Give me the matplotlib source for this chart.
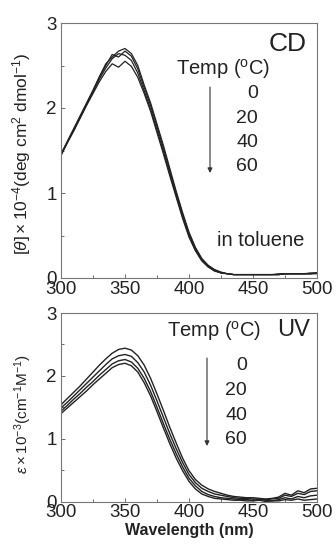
import matplotlib
matplotlib.use("Agg")
import matplotlib.pyplot as plt
from matplotlib.ticker import MultipleLocator

plt.rcParams['font.family'] = ['Liberation Sans', 'DejaVu Sans']
plt.rcParams['mathtext.fontset'] = 'custom'
plt.rcParams['mathtext.rm'] = 'Liberation Sans'
plt.rcParams['mathtext.it'] = 'Liberation Sans:italic'
plt.rcParams['mathtext.bf'] = 'Liberation Sans:bold'

wavelength = list(range(300, 505, 5))

cd_0 = [1.46, 1.61, 1.76, 1.91, 2.06, 2.21, 2.37, 2.52, 2.60, 2.67, 2.70, 2.64, 2.50, 2.27,
        2.06, 1.81, 1.56, 1.29, 1.02, 0.77, 0.54, 0.36, 0.23, 0.15, 0.10, 0.07, 0.05, 0.04,
        0.04, 0.04, 0.04, 0.04, 0.04, 0.04, 0.05, 0.05, 0.05, 0.05, 0.05, 0.06, 0.06]
cd_20 = [1.45, 1.60, 1.75, 1.90, 2.05, 2.20, 2.36, 2.50, 2.63, 2.60, 2.67, 2.61, 2.46, 2.24,
         2.03, 1.78, 1.53, 1.26, 1.00, 0.75, 0.52, 0.35, 0.22, 0.14, 0.09, 0.06, 0.05, 0.04,
         0.04, 0.04, 0.04, 0.04, 0.04, 0.04, 0.04, 0.05, 0.05, 0.05, 0.05, 0.05, 0.06]
cd_40 = [1.45, 1.60, 1.74, 1.89, 2.04, 2.19, 2.34, 2.47, 2.58, 2.64, 2.62, 2.56, 2.41, 2.20,
         1.99, 1.74, 1.49, 1.23, 0.97, 0.72, 0.50, 0.33, 0.21, 0.13, 0.09, 0.06, 0.05, 0.04,
         0.04, 0.04, 0.04, 0.04, 0.04, 0.04, 0.04, 0.05, 0.05, 0.05, 0.05, 0.05, 0.06]
cd_60 = [1.44, 1.59, 1.73, 1.88, 2.03, 2.17, 2.31, 2.43, 2.52, 2.48, 2.55, 2.49, 2.36, 2.17,
         1.96, 1.71, 1.46, 1.20, 0.95, 0.70, 0.48, 0.32, 0.20, 0.13, 0.08, 0.06, 0.05, 0.04,
         0.04, 0.04, 0.04, 0.04, 0.04, 0.04, 0.04, 0.05, 0.05, 0.05, 0.05, 0.05, 0.05]

uv_0 = [1.54, 1.64, 1.74, 1.84, 1.95, 2.06, 2.17, 2.27, 2.36, 2.42, 2.44, 2.41, 2.32, 2.17,
        1.96, 1.71, 1.45, 1.18, 0.93, 0.69, 0.49, 0.35, 0.26, 0.20, 0.16, 0.13, 0.10, 0.08,
        0.07, 0.06, 0.06, 0.05, 0.04, 0.05, 0.07, 0.13, 0.10, 0.17, 0.14, 0.20, 0.21]
uv_20 = [1.49, 1.58, 1.68, 1.78, 1.88, 1.98, 2.08, 2.18, 2.27, 2.32, 2.34, 2.31, 2.21, 2.06,
         1.85, 1.60, 1.34, 1.08, 0.84, 0.62, 0.43, 0.30, 0.21, 0.16, 0.12, 0.10, 0.08, 0.06,
         0.05, 0.05, 0.04, 0.04, 0.03, 0.04, 0.05, 0.10, 0.08, 0.13, 0.11, 0.16, 0.17]
uv_40 = [1.44, 1.53, 1.63, 1.72, 1.82, 1.91, 2.01, 2.10, 2.19, 2.24, 2.26, 2.22, 2.12, 1.96,
         1.75, 1.50, 1.24, 0.99, 0.76, 0.55, 0.37, 0.25, 0.16, 0.11, 0.08, 0.06, 0.05, 0.04,
         0.03, 0.03, 0.02, 0.03, 0.02, 0.01, 0.03, 0.06, 0.04, 0.08, 0.06, 0.09, 0.10]
uv_60 = [1.40, 1.49, 1.58, 1.67, 1.76, 1.86, 1.95, 2.04, 2.13, 2.18, 2.20, 2.16, 2.06, 1.89,
         1.68, 1.43, 1.17, 0.92, 0.69, 0.49, 0.32, 0.20, 0.12, 0.08, 0.05, 0.04, 0.03, 0.02,
         0.02, 0.01, 0.01, 0.02, 0.00, 0.01, 0.01, 0.03, 0.02, 0.04, 0.02, 0.03, 0.04]

temps = ['0', '20', '40', '60']
x_ticks = [300, 350, 400, 450, 500]
y_ticks = [0, 1, 2, 3]

W, H = 336, 544
fig = plt.figure(figsize=(W / 100, H / 100), dpi=100)


def fx(px):
    return px / W


def fy(py):
    return 1 - py / H


ax1 = fig.add_axes([fx(61), fy(278), fx(317) - fx(61), fy(23) - fy(278)])
ax2 = fig.add_axes([fx(61), fy(501.5), fx(317) - fx(61), fy(313) - fy(501.5)])

for s in (cd_0, cd_20, cd_40, cd_60):
    ax1.plot(wavelength, s, color='#222222', lw=0.9)
for s in (uv_0, uv_20, uv_40, uv_60):
    ax2.plot(wavelength, s, color='#222222', lw=1.0)

for ax in (ax1, ax2):
    ax.set_xlim(300, 500)
    ax.set_ylim(0, 3)
    ax.set_xticks(x_ticks)
    ax.set_yticks(y_ticks)
    ax.xaxis.set_minor_locator(MultipleLocator(25))
    ax.yaxis.set_minor_locator(MultipleLocator(0.5))
    ax.tick_params(which='both', direction='in', top=False, right=False,
                   labelsize=13.5, color='#555555', labelcolor='#222222')
    ax.tick_params(axis='x', pad=2)
    ax.tick_params(axis='y', pad=3)
    ax.tick_params(which='major', length=3, width=0.6)
    ax.tick_params(which='minor', length=2, width=0.6)
    for sp in ax.spines.values():
        sp.set_color('#777777')
        sp.set_linewidth(0.8)

ax1.set_ylabel(r'$[\theta]\times10^{-4}$(deg cm$^{2}$ dmol$^{-1}$)', fontsize=12.5,
               color='#222222')
ax1.yaxis.set_label_coords((33 - 61) / 256, (278 - 154) / 255)
ax2.set_ylabel(r'$\varepsilon\times10^{-3}$(cm$^{-1}$M$^{-1}$)', fontsize=11,
               color='#222222')
ax2.yaxis.set_label_coords((34 - 61) / 256, (501.5 - 414) / 188.5)
ax2.set_xlabel('Wavelength (nm)', fontsize=11.5, fontweight='bold', labelpad=1,
               color='#222222')

tc = '#222222'
# Top panel annotations
fig.text(fx(307), fy(44), 'CD', fontsize=19, ha='right', va='center', color=tc)
fig.text(fx(223), fy(69), 'Temp ($^{\\mathrm{o}}$C)', fontsize=14.5, ha='center',
         va='center', color=tc)
for i, t in enumerate(temps):
    fig.text(fx(258), fy(94 + 24.3 * i), t, fontsize=14, ha='right', va='center', color=tc)
ax1.annotate('', xy=(fx(210), fy(173)), xytext=(fx(210), fy(87)),
             xycoords='figure fraction', textcoords='figure fraction',
             arrowprops=dict(arrowstyle='-|>', color='#333333', lw=0.8,
                             mutation_scale=7, shrinkA=0, shrinkB=0))
fig.text(fx(304), fy(240), 'in toluene', fontsize=14.5, ha='right', va='center', color=tc)

# Bottom panel annotations
fig.text(fx(214), fy(331), 'Temp ($^{\\mathrm{o}}$C)', fontsize=14.5, ha='center',
         va='center', color=tc)
fig.text(fx(310), fy(330), 'UV', fontsize=17, ha='right', va='center', color=tc)
for i, t in enumerate(temps):
    fig.text(fx(247), fy(366 + 24.5 * i), t, fontsize=14, ha='right', va='center', color=tc)
ax2.annotate('', xy=(fx(207), fy(446)), xytext=(fx(207), fy(358)),
             xycoords='figure fraction', textcoords='figure fraction',
             arrowprops=dict(arrowstyle='-|>', color='#333333', lw=0.8,
                             mutation_scale=7, shrinkA=0, shrinkB=0))

fig.savefig('out.png', dpi=100)
